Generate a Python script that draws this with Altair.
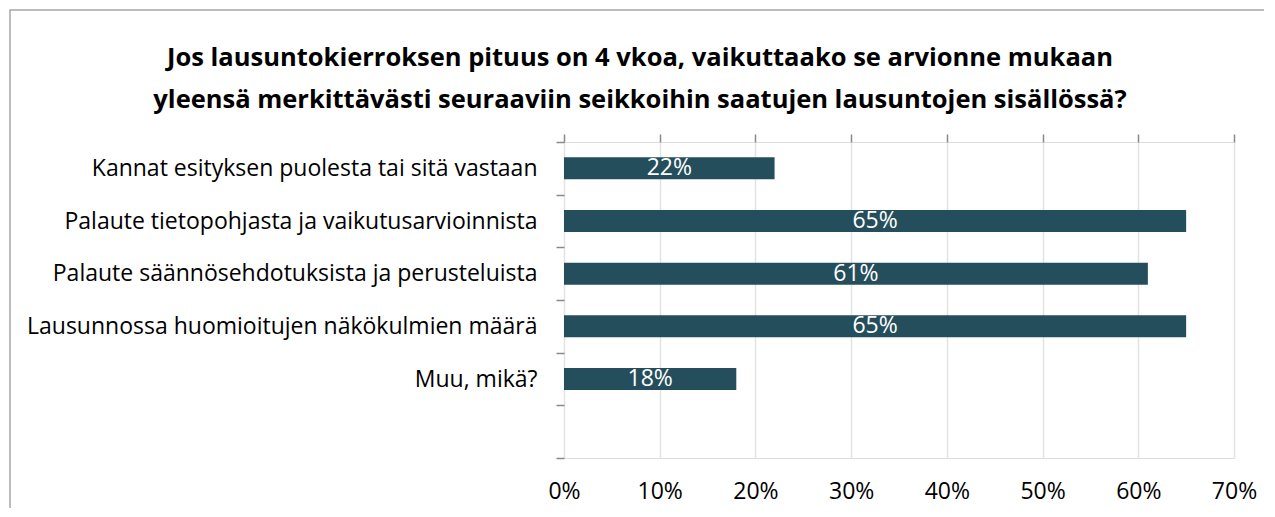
import altair as alt
import pandas as pd

title_lines = [
    "Jos lausuntokierroksen pituus on 4 vkoa, vaikuttaako se arvionne mukaan",
    "yleensä merkittävästi seuraaviin seikkoihin saatujen lausuntojen sisällössä?",
]
categories = [
    "Kannat esityksen puolesta tai sitä vastaan",
    "Palaute tietopohjasta ja vaikutusarvioinnista",
    "Palaute säännösehdotuksista ja perusteluista",
    "Lausunnossa huomioitujen näkökulmien määrä",
    "Muu, mikä?",
]
values = [0.22, 0.65, 0.61, 0.65, 0.18]
x_ticks = [0, 0.1, 0.2, 0.3, 0.4, 0.5, 0.6, 0.7]

df = pd.DataFrame({"category": categories, "value": values})
y_domain = categories + [""]

FONT = "Open Sans"
BAR = "#244E5B"
GRAY = "#898989"
FS = 23

y_enc = alt.Y(
    "category:N",
    scale=alt.Scale(domain=y_domain, paddingInner=0, paddingOuter=0),
    axis=alt.Axis(
        title=None, tickBand="extent", ticks=True, tickSize=8, tickColor=GRAY,
        tickWidth=1.5, domain=False, grid=False, labelPadding=19,
        labelFont=FONT, labelFontSize=FS, labelColor="#000000", labelLimit=0,
    ),
)

x_scale = alt.Scale(domain=[0, 0.7], nice=False)

base = alt.Chart(df)

bars = base.mark_bar(color=BAR, size=22).encode(
    x=alt.X(
        "value:Q", scale=x_scale,
        axis=alt.Axis(
            orient="top", values=x_ticks, labels=False, ticks=True, tickSize=8,
            tickColor=GRAY, tickWidth=1.5, domain=False, grid=True,
            gridColor="#E3E3E3", gridWidth=1.5, title=None,
        ),
    ),
    y=y_enc,
)

labels = base.transform_calculate(mid="datum.value / 2").mark_text(
    color="white", font=FONT, fontSize=FS, align="center", baseline="middle"
).encode(
    x=alt.X(
        "mid:Q", scale=x_scale,
        axis=alt.Axis(
            orient="bottom", values=x_ticks, format=".0%", labels=True,
            ticks=False, tickSize=0, domain=False, grid=False, labelPadding=22,
            labelFlush=False, labelFont=FONT, labelFontSize=FS,
            labelColor="#000000", title=None,
        ),
    ),
    y=y_enc,
    text=alt.Text("value:Q", format=".0%"),
)

frame = alt.Chart(alt.Data(values=[{}])).mark_rect(
    fill=None, stroke="#A6A6A6", strokeWidth=1.5
).encode(
    x=alt.value(-554), x2=alt.value(900), y=alt.value(-132), y2=alt.value(600)
)

chart = (
    alt.layer(frame, bars, labels)
    .resolve_axis(x="independent")
    .properties(
        width=670, height=316,
        autosize=alt.AutoSizeParams(type="none"),
        padding={"left": 556, "top": 134, "right": 30, "bottom": 50},
        title=alt.TitleParams(
            text=title_lines, font=FONT, fontSize=25.5, fontWeight="bold",
            color="#000000", anchor="middle", frame="group", dx=-259,
            lineHeight=42, offset=20, dy=124,
        ),
    )
    .configure_view(stroke=GRAY, strokeWidth=2)
    .configure(background="white")
)

chart.save("out.html", embed_options={"renderer": "svg", "actions": False})
